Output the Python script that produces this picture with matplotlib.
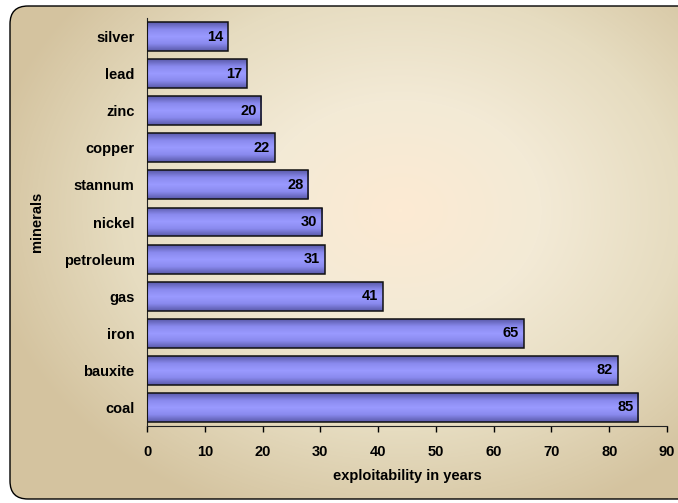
import numpy as np
import matplotlib.pyplot as plt
from matplotlib.patches import FancyBboxPatch
from matplotlib.colors import LinearSegmentedColormap

minerals = ["coal", "bauxite", "iron", "gas", "petroleum", "nickel",
            "stannum", "copper", "zinc", "lead", "silver"]
years = [85.0, 81.5, 65.2, 40.8, 30.8, 30.3, 27.9, 22.1, 19.8, 17.3, 14.0]
labels = [85, 82, 65, 41, 31, 30, 28, 22, 20, 17, 14]

plt.rcParams['font.family'] = ['Liberation Sans', 'DejaVu Sans']
plt.rcParams['font.weight'] = 'bold'

fig = plt.figure(figsize=(6.78, 5.03), dpi=100)

# background panel with radial gradient
bg = fig.add_axes([0, 0, 1, 1], zorder=-1)
bg.set_xlim(0, 678)
bg.set_ylim(503, 0)
bg.axis('off')
yy, xx = np.mgrid[0:503, 0:678]
r = np.sqrt(((xx - 400) / 420.0) ** 2 + ((yy - 210) / 330.0) ** 2)
bg_cmap = LinearSegmentedColormap.from_list(
    "bg", ["#fdebd3", "#f3ead6", "#e6dcc0", "#d4c39f"])
box = FancyBboxPatch((10, 6), 690, 493, boxstyle="round,pad=0,rounding_size=18",
                     facecolor="none", edgecolor="black", linewidth=1.0)
bg.add_patch(box)
im = bg.imshow(np.clip(r, 0, 1), cmap=bg_cmap, extent=[0, 678, 503, 0],
               aspect='auto', vmin=0, vmax=1)
im.set_clip_path(box)

ax = fig.add_axes([147 / 678, 1 - 426 / 503, 520 / 678, 408 / 503])
ax.set_facecolor("none")

bar_cmap = LinearSegmentedColormap.from_list(
    "bar", ["#5a5aaa", "#8a8aee", "#9a9aff", "#8a8aee", "#5a5aaa"])
grad = np.linspace(0, 1, 64).reshape(-1, 1)

y = np.arange(len(minerals))
bars = ax.barh(y, years, height=0.78, color="none", edgecolor="#111111",
               linewidth=1.1, zorder=3)
for b, lab in zip(bars, labels):
    x0, y0 = b.get_x(), b.get_y()
    w, h = b.get_width(), b.get_height()
    gi = ax.imshow(grad, cmap=bar_cmap, extent=[x0, x0 + w, y0, y0 + h],
                   aspect='auto', zorder=2)
    gi.set_clip_path(b)
    ax.annotate(str(lab), (x0 + w, y0 + h / 2), xytext=(-3.5, 0),
                textcoords="offset points", ha="right", va="center",
                fontsize=10.5, fontweight="bold", color="black", zorder=4)

ax.set_xlim(0, 90)
ax.set_ylim(-0.5, len(minerals) - 0.5)
ax.set_xticks(np.arange(0, 91, 10))
ax.set_yticks(y)
ax.set_yticklabels(minerals)
ax.tick_params(axis='y', length=0, pad=9, labelsize=10.5)
ax.tick_params(axis='x', length=4, width=1, pad=10, labelsize=10.5)
for s in ['top', 'right']:
    ax.spines[s].set_visible(False)
for s in ['left', 'bottom']:
    ax.spines[s].set_color("#222222")
ax.set_xlabel("exploitability in years", fontsize=10.5, fontweight="bold", labelpad=7)
ax.set_ylabel("minerals", fontsize=10.5, fontweight="bold", labelpad=14)

fig.savefig("out.png", dpi=100)
